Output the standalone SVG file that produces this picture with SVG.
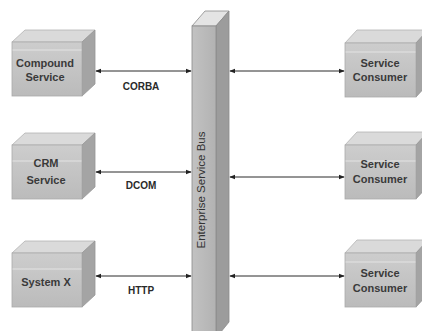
<svg xmlns="http://www.w3.org/2000/svg" width="422" height="331" viewBox="0 0 422 331">
  <defs>
    <linearGradient id="frontGrad" x1="0" y1="0" x2="0" y2="1">
      <stop offset="0" stop-color="#cdcdcd"/>
      <stop offset="1" stop-color="#bbbbbb"/>
    </linearGradient>
    <linearGradient id="busGrad" x1="0" y1="0" x2="1" y2="0">
      <stop offset="0" stop-color="#c2c2c2"/>
      <stop offset="1" stop-color="#b2b2b2"/>
    </linearGradient>
    <marker id="arrowHead" viewBox="0 0 8 8" refX="7" refY="4" markerWidth="6" markerHeight="6" orient="auto-start-reverse" markerUnits="userSpaceOnUse">
      <path d="M0,0.8 L8,4 L0,7.2 Z" fill="#222"/>
    </marker>
  </defs>
  <style>
    .front { fill: url(#frontGrad); stroke: #aaaaaa; stroke-width: 0.8; }
    .top { fill: #dadada; stroke: #b2b2b2; stroke-width: 0.8; }
    .side { fill: #a4a4a4; stroke: #969696; stroke-width: 0.8; }
    .band { stroke: #e4e4e4; stroke-width: 1.2; }
    .label { font-family: "Liberation Sans", Arial, sans-serif; font-size: 11px; font-weight: bold; fill: #3a3a3a; text-anchor: middle; }
    .proto { font-family: "Liberation Sans", Arial, sans-serif; font-size: 10px; font-weight: bold; fill: #2a2a2a; text-anchor: middle; }
    .link { stroke: #2a2a2a; stroke-width: 1; fill: none; marker-start: url(#arrowHead); marker-end: url(#arrowHead); }
    .busFront { fill: url(#busGrad); stroke: #8a8a8a; stroke-width: 0.8; }
    .busSide { fill: #9c9c9c; stroke: #8a8a8a; stroke-width: 0.8; }
    .busTop { fill: #e4e4e4; stroke: #8a8a8a; stroke-width: 0.8; }
    .busText { font-family: "Liberation Sans", Arial, sans-serif; font-size: 11.5px; fill: #333; text-anchor: middle; }
  </style>

  <rect width="422" height="331" fill="#ffffff"/>

  <!-- Enterprise Service Bus column -->
  <g id="bus">
    <polygon class="busTop" points="192,26 216,26 229,11 205,11"/>
    <polygon class="busSide" points="216,26 229,11 229,322 216,338"/>
    <rect class="busFront" x="192" y="26" width="24" height="312"/>
    <text class="busText" transform="translate(201,190) rotate(-90)" dy="4">Enterprise Service Bus</text>
  </g>

  <!-- Providers on the left -->
  <g id="compound-service">
    <polygon class="top" points="12,42 82,42 95,30 25,30"/>
    <polygon class="side" points="82,42 95,30 95,84 82,96"/>
    <rect class="front" x="12" y="42" width="70" height="54"/>
    <line class="band" x1="12.5" y1="50" x2="81.5" y2="50"/>
    <text class="label" x="45" y="67">Compound</text>
    <text class="label" x="45" y="81">Service</text>
  </g>

  <g id="crm-service">
    <polygon class="top" points="12,145 82,145 95,133 25,133"/>
    <polygon class="side" points="82,145 95,133 95,187 82,199"/>
    <rect class="front" x="12" y="145" width="70" height="54"/>
    <line class="band" x1="12.5" y1="161" x2="81.5" y2="161"/>
    <text class="label" x="46" y="167">CRM</text>
    <text class="label" x="46" y="184">Service</text>
  </g>

  <g id="system-x">
    <polygon class="top" points="12,253 82,253 95,241 25,241"/>
    <polygon class="side" points="82,253 95,241 95,295 82,307"/>
    <rect class="front" x="12" y="253" width="70" height="54"/>
    <line class="band" x1="12.5" y1="269" x2="81.5" y2="269"/>
    <text class="label" x="46" y="286">System X</text>
  </g>

  <!-- Consumers on the right -->
  <g id="consumer-1">
    <polygon class="top" points="345,43 416,43 428,30 357,30"/>
    <polygon class="side" points="416,43 428,30 428,84 416,97"/>
    <rect class="front" x="345" y="43" width="71" height="54"/>
    <line class="band" x1="345.5" y1="52" x2="415.5" y2="52"/>
    <text class="label" x="380" y="67">Service</text>
    <text class="label" x="380" y="81">Consumer</text>
  </g>

  <g id="consumer-2">
    <polygon class="top" points="345,145 416,145 428,132 357,132"/>
    <polygon class="side" points="416,145 428,132 428,186 416,199"/>
    <rect class="front" x="345" y="145" width="71" height="54"/>
    <line class="band" x1="345.5" y1="161" x2="415.5" y2="161"/>
    <text class="label" x="380" y="168">Service</text>
    <text class="label" x="380" y="183">Consumer</text>
  </g>

  <g id="consumer-3">
    <polygon class="top" points="345,253 416,253 428,240 357,240"/>
    <polygon class="side" points="416,253 428,240 428,294 416,307"/>
    <rect class="front" x="345" y="253" width="71" height="54"/>
    <line class="band" x1="345.5" y1="262" x2="415.5" y2="262"/>
    <text class="label" x="380" y="277">Service</text>
    <text class="label" x="380" y="292">Consumer</text>
  </g>

  <!-- Connectors -->
  <g id="connectors">
    <line class="link" x1="96" y1="71" x2="191" y2="71"/>
    <line class="link" x1="96" y1="172" x2="191" y2="172"/>
    <line class="link" x1="96" y1="276" x2="191" y2="276"/>
    <line class="link" x1="230" y1="71" x2="344" y2="71"/>
    <line class="link" x1="230" y1="177" x2="344" y2="177"/>
    <line class="link" x1="230" y1="276" x2="344" y2="276"/>
    <text class="proto" x="141" y="90">CORBA</text>
    <text class="proto" x="141" y="189">DCOM</text>
    <text class="proto" x="141" y="294">HTTP</text>
  </g>
</svg>
